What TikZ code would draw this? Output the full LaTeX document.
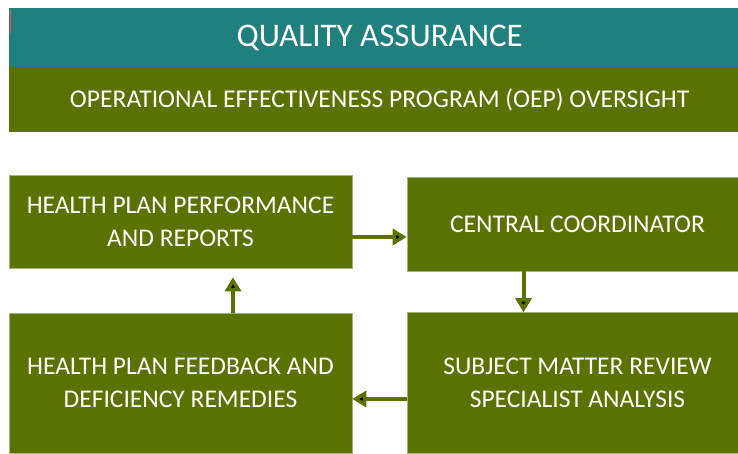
\documentclass[tikz,border=0pt]{standalone}
\usepackage{fontspec}
\setmainfont{Carlito}
\usetikzlibrary{arrows.meta,positioning}

\definecolor{teal}{HTML}{1F807E}
\definecolor{olive}{HTML}{5A7300}
\definecolor{edgeline}{HTML}{A3B57A}

\tikzset{
  band/.style={fill=#1, draw=none, text=white, inner sep=0pt, anchor=north west},
  box/.style={fill=olive, draw=edgeline, line width=0.6pt, text=white, align=center,
    inner sep=0pt, font=\fontsize{25.5}{33}\selectfont},
  flow/.style={draw=olive, line width=4pt, -{Triangle[width=16pt,length=14pt]}}
}

\begin{document}
\begin{tikzpicture}[x=1pt, y=-1pt]
  \useasboundingbox (0,0) rectangle (738,453);
  \node[band=teal, minimum width=729pt, minimum height=59pt, font=\fontsize{33}{38}\selectfont] (qa) at (9,8) {\hspace{12pt}QUALITY ASSURANCE};
  \node[band=olive, minimum width=729pt, minimum height=65pt, font=\fontsize{25.6}{30}\selectfont] (oep) at (9,67) {\hspace{12pt}OPERATIONAL EFFECTIVENESS PROGRAM (OEP) OVERSIGHT};
  \draw[red!60!pink, line width=1pt] (10,10) -- (10,33);

  \node[box, minimum width=343pt, minimum height=93pt] (perf) at (180.5,221.5) {HEALTH PLAN PERFORMANCE\\AND REPORTS};
  \node[box, minimum width=331pt, minimum height=94pt] (coord) at (572.5,224) {\hspace{10pt}CENTRAL COORDINATOR};
  \node[box, minimum width=331pt, minimum height=141pt] (review) at (572.5,383) {\hspace{10pt}SUBJECT MATTER REVIEW\\\hspace{10pt}SPECIALIST ANALYSIS};
  \node[box, minimum width=343pt, minimum height=140pt] (feedback) at (180.5,383) {\rule{0pt}{6pt}HEALTH PLAN FEEDBACK AND\\DEFICIENCY REMEDIES};

  \path[flow]
  ([yshift=-15.5pt]perf.east) edge ([yshift=-13pt]coord.west)
  ([xshift=-49pt]coord.south) edge ([xshift=-49pt]review.north)
  ([yshift=-16pt]review.west) edge ([yshift=-16pt]feedback.east)
  ([xshift=52.5pt]feedback.north) edge ([xshift=52.5pt,yshift=-9pt]perf.south)
;
\end{tikzpicture}
\end{document}
